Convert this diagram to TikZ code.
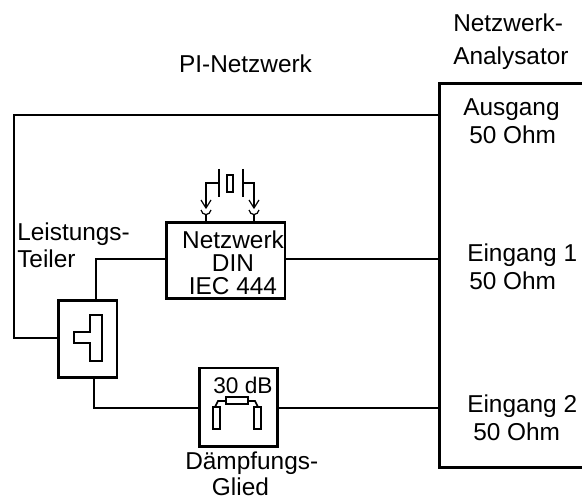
\documentclass[tikz,border=0pt]{standalone}
\usepackage{fontspec}
\setmainfont{Liberation Sans}
\begin{document}
\begin{tikzpicture}[x=0.75pt,y=-0.75pt,
  lbl/.style={inner sep=0pt,font=\fontsize{18.3}{#1}\selectfont,align=center},
  lbll/.style={inner sep=0pt,font=\fontsize{18.3}{#1}\selectfont,align=left,anchor=west},
  thick box/.style={draw=black,line width=2.1pt,fill=white,inner sep=0pt,anchor=north west},
  wire/.style={draw=black,line width=1.4pt},
  sym/.style={draw=black,line width=1.2pt,line join=miter}]
\useasboundingbox (0,0) rectangle (582,499);
% boxes
\node[thick box,minimum width=120pt,minimum height=287.5pt] (ana) at (438,82.5) {};
\node[thick box,minimum width=89pt,minimum height=57pt] (net) at (165,221) {};
\node[thick box,minimum width=44pt,minimum height=58pt] (split) at (57,299) {};
\node[thick box,minimum width=58.5pt,minimum height=59pt] (att) at (198,366.5) {};
% connectors
\coordinate (c1) at (14,115);
\coordinate (c2) at (14,338);
\coordinate (c3) at (96,259);
\coordinate (c4) at (94,408);
\draw[wire] (ana.west |- c1) -- (c1) -- (c2) -- (split.west |- c2);
\draw[wire] (split.north -| c3) -- (c3) -- (net.west |- c3);
\draw[wire] (net.east |- 0,259) -- (ana.west |- 0,259);
\draw[wire] (split.south -| c4) -- (c4) -- (att.west |- c4);
\draw[wire] (att.east |- c4) -- (ana.west |- c4);
% splitter symbol
\draw[sym] (90,315) -- (102,315) -- (102,361) -- (90,361) -- (90,343) -- (74,343) -- (74,332) -- (90,332) -- cycle;
% crystal
\coordinate (pL) at (206,221);
\coordinate (pR) at (254,221);
\draw[sym,line width=1.4pt] (219,169) -- (219,197);
\draw[sym,line width=1.4pt] (243,169) -- (243,197);
\draw[sym,line width=2pt] (227,175) rectangle (233,192);
\draw[sym] (219,183) -- (206,183) -- (206,208);
\draw[sym] (243,183) -- (254,183) -- (254,208);
\draw[sym,line width=.9pt] (201,200) -- (206,208) -- (211,200);
\draw[sym,line width=.9pt] (249,200) -- (254,208) -- (259,200);
\draw[sym,line width=.9pt] (201,210) .. controls (202,216) and (210,216) .. (211,210);
\draw[sym,line width=.9pt] (249,210) .. controls (250,216) and (258,216) .. (259,210);
\draw[sym] (pL) -- (206,214.5);
\draw[sym] (pR) -- (254,214.5);
% attenuator symbol
\draw[sym] (226,397) rectangle (248,404);
\draw[sym] (226,401) -- (218,401) -- (215,407);
\draw[sym] (248,401) -- (255,401) -- (258,407);
\draw[sym] (213,407) rectangle (220,429);
\draw[sym] (254,407) rectangle (261,429);
% texts
\node[lbl=20,anchor=center] (t1) at (245.5,64) {PI-Netzwerk};
\node[lbll=24.5] (t2) at (453,41.5) {Netzwerk-\\Analysator};
\node[lbll=21] (t3) at (463,121) {Ausgang\\\hspace*{4.5pt}50 Ohm};
\node[lbll=21] (t4) at (467,267) {Eingang 1\\\hspace*{1.5pt}50 Ohm};
\node[lbll=21] (t5) at (467,418) {Eingang 2\\\hspace*{4.5pt}50 Ohm};
\node[lbl=17.2,anchor=center] (t6) at (233,263) {Netzwerk\\DIN\\IEC 444};
\node[lbll=20] (t7) at (17,245.5) {Leistungs-\\Teiler};
\node[inner sep=0pt,font=\fontsize{17}{20}\selectfont,anchor=center] (t8) at (243,385) {30 dB};
\node[lbll=19.5] (t9) at (185,474) {Dämpfungs-\\\hspace*{20pt}Glied};
\end{tikzpicture}
\end{document}
